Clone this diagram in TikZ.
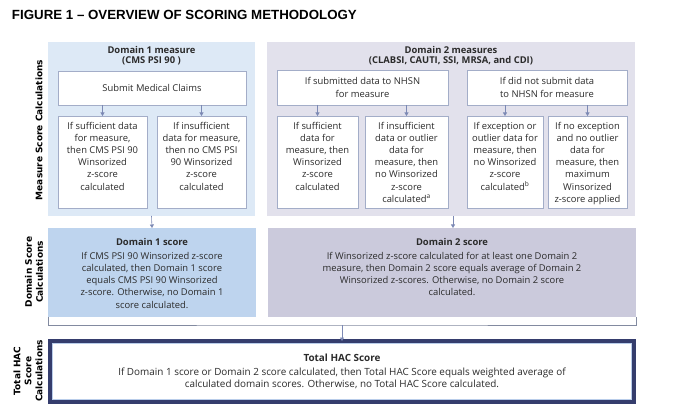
\documentclass[tikz,border=0pt]{standalone}
\usepackage{fontspec}
\setmainfont{Open Sans}
\newfontfamily\titlefont{Liberation Sans}
\newfontfamily\labelfont{DejaVu Sans}
\usetikzlibrary{arrows.meta}

\definecolor{panelone}{HTML}{DDE9F6}
\definecolor{scoreone}{HTML}{BED4EE}
\definecolor{paneltwo}{HTML}{E2E1EC}
\definecolor{scoretwo}{HTML}{CBCADC}
\definecolor{boxline}{HTML}{A3ADC8}
\definecolor{arrowblue}{HTML}{7C89B4}
\definecolor{hacnavy}{HTML}{353D6D}
\definecolor{hacinner}{HTML}{B9CDEA}
\definecolor{inktext}{HTML}{2B2B2B}

\newcommand{\bodyfont}{\fontsize{9.4}{12.2}\selectfont}
\newcommand{\topalign}[3]{\parbox[c][#2][t]{#1}{\centering #3}}

\begin{document}
\begin{tikzpicture}
[x=1pt,y=-1pt,
 every node/.style={inner sep=0pt,outer sep=0pt,text=inktext},
 panel/.style={anchor=north west},
 measure/.style={draw=boxline,fill=white,line width=.6pt,anchor=north west,font=\bodyfont},
 subbox/.style={measure,inner xsep=1pt,inner ysep=6pt},
 score/.style={anchor=north west,font=\bodyfont,inner xsep=4pt,inner ysep=10pt},
 head/.style={anchor=north,align=center,font=\fontsize{9.4}{9.8}\selectfont\bfseries},
 rowlabel/.style={rotate=90,align=center,font=\labelfont\fontsize{9}{11}\selectfont\bfseries,text=black},
 arr/.style={draw=arrowblue,line width=.6pt,-{Triangle[width=4pt,length=3.5pt]}},
 bracket/.style={draw=boxline!80!black,line width=.6pt}]
\useasboundingbox (0,0) rectangle (673,417);

% title
\node[anchor=west,font=\titlefont\fontsize{13.3}{15}\selectfont\bfseries,text=black] (title) at (12,15) {FIGURE 1 – OVERVIEW OF SCORING METHODOLOGY};

% row labels
\node[rowlabel] (rowmeasure) at (39,130) {Measure Score Calculations};
\node[rowlabel] (rowdomain) at (34,272) {Domain Score\\Calculations};
\node[rowlabel] (rowtotal) at (28,371) {Total HAC\\Score\\Calculations};

% measure panels
\node[panel,fill=panelone,minimum width=207,minimum height=174] (d1panel) at (48,42) {};
\node[panel,fill=paneltwo,minimum width=368,minimum height=174] (d2panel) at (267,42) {};
\node[head] (d1head) at (151.5,46.5) {Domain 1 measure\\(CMS PSI 90 )};
\node[head] (d2head) at (451,46.5) {Domain 2 measures\\(CLABSI, CAUTI, SSI, MRSA, and CDI)};

% domain 1 measure boxes
\node[measure,minimum width=188,minimum height=34] (claims) at (58,71) {Submit Medical Claims};
\node[subbox] (d1a) at (58,116) {\topalign{87pt}{80pt}{If sufficient data\\for measure,\\then CMS PSI 90\\Winsorized\\z-score\\calculated}};
\node[subbox] (d1b) at (157,116) {\topalign{87pt}{80pt}{If insufficient\\data for measure,\\then no CMS PSI\\90 Winsorized\\z-score\\calculated}};

% domain 2 measure boxes
\node[measure,minimum width=171,minimum height=35,align=center] (nhsn) at (277,70) {If submitted data to NHSN\\for measure};
\node[measure,minimum width=160,minimum height=35,align=center] (nonhsn) at (467,70) {If did not submit data\\to NHSN for measure};
\node[subbox] (d2a) at (277,116) {\topalign{79pt}{80pt}{If sufficient\\data for\\measure, then\\Winsorized\\z-score\\calculated}};
\node[subbox] (d2b) at (365,116) {\topalign{81pt}{80pt}{If insufficient\\data or outlier\\data for\\measure, then\\no Winsorized\\z-score\\calculated\textsuperscript{a}}};
\node[subbox] (d2c) at (467,116) {\topalign{74pt}{80pt}{If exception or\\outlier data for\\measure, then\\no Winsorized\\z-score\\calculated\textsuperscript{b}}};
\node[subbox] (d2d) at (548,116) {\topalign{77pt}{80pt}{If no exception\\and no outlier\\data for\\measure, then\\maximum\\Winsorized\\z-score applied}};

\foreach \from/\to in {claims/d1a,claims/d1b,nhsn/d2a,nhsn/d2b,nonhsn/d2c,nonhsn/d2d}
\draw[arr] (\from.south -| \to.north) -- (\to.north);

% domain scores
\node[score,fill=scoreone,minimum width=208,minimum height=89] (d1score) at (48,228) {\topalign{200pt}{69pt}{{\bfseries Domain 1 score}\\[2pt]If CMS PSI 90 Winsorized z-score\\calculated, then Domain 1 score\\equals CMS PSI 90 Winsorized\\z-score. Otherwise, no Domain 1\\score calculated.}};
\node[score,fill=scoretwo,minimum width=368,minimum height=89] (d2score) at (268,228) {\topalign{360pt}{69pt}{{\bfseries Domain 2 score}\\[2pt]If Winsorized z-score calculated for at least one Domain 2\\measure, then Domain 2 score equals average of Domain 2\\Winsorized z-scores. Otherwise, no Domain 2 score\\calculated.}};
\draw[arr] (d1panel.south) -- (d1score.north);
\draw[arr] (d2panel.south -| 453,0) -- (d2score.north -| 453,0);

% total score
\node[panel,draw=hacnavy,line width=3.6pt,fill=white,minimum width=584,minimum height=61,align=center,font=\fontsize{9.9}{12.2}\selectfont] (total) at (50,341) {{\bfseries Total HAC Score}\\[2pt]If Domain 1 score or Domain 2 score calculated, then Total HAC Score equals weighted average of\\calculated domain scores. Otherwise, no Total HAC Score calculated.};
\draw[hacinner,line width=.8pt] ([shift={(2.6,2.6)}]total.north west) rectangle ([shift={(-2.6,-2.6)}]total.south east);
\coordinate (join) at (total.north |- 0,325);
\draw[bracket] (d1score.south west) |- (join) -| (d2score.south east);
\draw[arr] (join) -- (total.north);
\end{tikzpicture}
\end{document}
